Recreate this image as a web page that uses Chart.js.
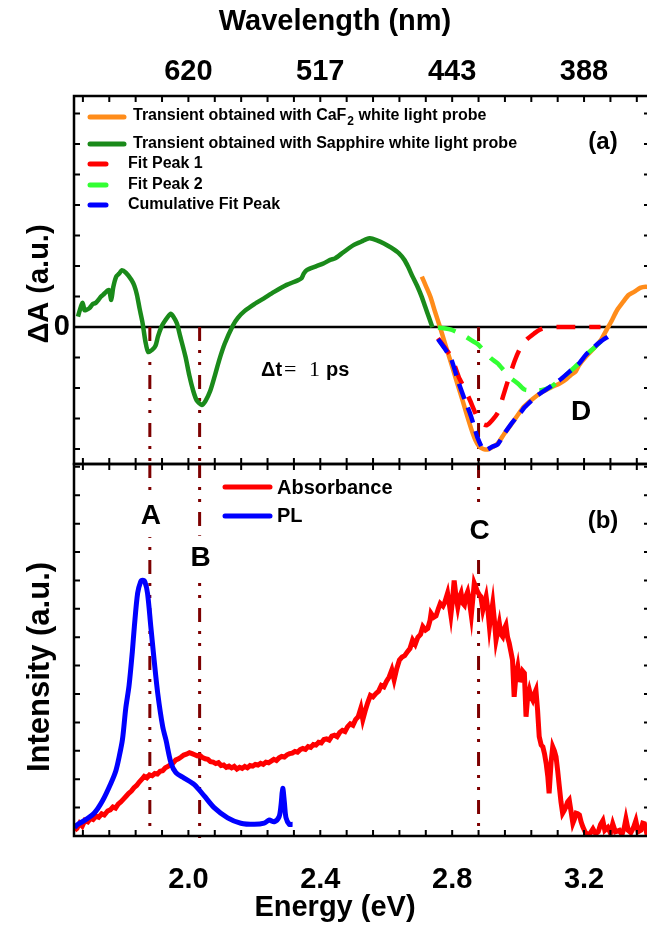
<!DOCTYPE html>
<html>
<head>
<meta charset="utf-8">
<script src="https://cdn.jsdelivr.net/npm/chart.js@4.4.1/dist/chart.umd.min.js"></script>
<style>
  html, body { margin: 0; padding: 0; background: #fff; overflow: hidden; width: 647px; height: 927px; }
  #wrap { position: relative; width: 660px; height: 927px; }
  #wrap canvas { position: absolute; left: 0; top: 0; }
</style>
</head>
<body>
<div id="wrap">
  <canvas id="panelA" width="660" height="927"></canvas>
  <canvas id="panelB" width="660" height="927"></canvas>
</div>
<script>
// ---- data (energy in eV) ----
const sapphireE = [1.665,1.672,1.679,1.685,1.690,1.700,1.710,1.719,1.728,1.735,1.741,1.750,1.759,1.766,1.772,1.781,1.790,1.798,1.810,1.827,1.836,1.844,1.852,1.861,1.870,1.878,1.890,1.900,1.908,1.918,1.930,1.946,1.955,1.965,1.975,1.991,2.003,2.014,2.025,2.041,2.052,2.066,2.080,2.093,2.110,2.135,2.150,2.170,2.200,2.229,2.260,2.298,2.330,2.343,2.350,2.360,2.385,2.411,2.430,2.445,2.470,2.502,2.525,2.540,2.550,2.570,2.593,2.615,2.638,2.655,2.666,2.680,2.695,2.708,2.718,2.730,2.740];
const sapphireDA = [0.34,0.60,0.79,0.55,0.56,0.62,0.75,0.79,0.90,1.00,1.05,1.15,1.21,0.89,1.30,1.65,1.75,1.86,1.78,1.55,1.35,1.05,0.60,0.13,-0.50,-0.82,-0.75,-0.62,-0.30,0.0,0.22,0.43,0.33,0.12,-0.30,-0.97,-1.60,-2.07,-2.40,-2.56,-2.42,-2.10,-1.60,-1.10,-0.55,0.05,0.30,0.52,0.75,0.94,1.15,1.38,1.52,1.60,1.75,1.87,1.98,2.09,2.20,2.25,2.45,2.69,2.80,2.88,2.91,2.85,2.74,2.60,2.42,2.20,1.98,1.65,1.32,0.98,0.67,0.30,-0.01];

const caf2E = [2.708,2.720,2.734,2.748,2.763,2.780,2.797,2.814,2.831,2.845,2.859,2.870,2.882,2.895,2.910,2.925,2.939,2.958,2.978,2.998,3.018,3.045,3.075,3.100,3.126,3.145,3.160,3.175,3.185,3.206,3.230,3.251,3.268,3.285,3.300,3.319,3.335,3.353,3.370,3.387,3.400];
const caf2DA = [1.65,1.35,0.99,0.50,0.0,-0.60,-1.19,-1.80,-2.39,-2.90,-3.38,-3.70,-3.92,-4.00,-4.01,-3.92,-3.81,-3.50,-3.21,-2.90,-2.61,-2.35,-2.12,-1.98,-1.85,-1.72,-1.57,-1.45,-1.25,-0.97,-0.70,-0.43,-0.10,0.23,0.55,0.83,1.05,1.16,1.28,1.32,1.30];

const peak1E = [2.757,2.777,2.797,2.820,2.837,2.854,2.876,2.893,2.905,2.922,2.939,2.955,2.973,2.990,3.004,3.025,3.049,3.067,3.087,3.120,3.160,3.200,3.250];
const peak1DA = [-0.37,-0.67,-0.96,-1.64,-2.00,-2.40,-2.95,-3.18,-3.22,-3.05,-2.80,-2.25,-1.63,-1.10,-0.75,-0.42,-0.21,-0.08,-0.01,0,0,0,0];

const peak2E = [2.757,2.780,2.797,2.820,2.842,2.860,2.877,2.900,2.918,2.938,2.955,2.973,3.000,3.019,3.045,3.070,3.090,3.105,3.126,3.155,3.183,3.205,3.231,3.250,3.274];
const peak2DA = [-0.02,-0.05,-0.09,-0.20,-0.32,-0.45,-0.56,-0.82,-1.03,-1.19,-1.40,-1.63,-1.86,-2.05,-2.08,-2.07,-2.01,-1.92,-1.74,-1.48,-1.20,-0.92,-0.68,-0.48,-0.30];

const cumulE = [2.757,2.777,2.797,2.820,2.837,2.854,2.865,2.876,2.893,2.905,2.922,2.938,2.958,2.978,2.992,3.008,3.019,3.040,3.060,3.090,3.126,3.155,3.183,3.205,3.231,3.250,3.272];
const cumulDA = [-0.40,-0.70,-1.05,-1.84,-2.35,-2.83,-3.20,-3.60,-4.00,-4.02,-3.92,-3.85,-3.50,-3.19,-3.00,-2.80,-2.64,-2.42,-2.23,-2.01,-1.74,-1.47,-1.22,-0.92,-0.65,-0.48,-0.32];

const absE = [1.655,1.662,1.670,1.678,1.686,1.695,1.703,1.711,1.720,1.728,1.737,1.745,1.755,1.763,1.771,1.779,1.787,1.795,1.803,1.811,1.819,1.827,1.835,1.843,1.851,1.859,1.866,1.874,1.882,1.890,1.898,1.906,1.914,1.922,1.930,1.938,1.946,1.954,1.962,1.970,1.978,1.986,1.994,2.003,2.011,2.019,2.027,2.035,2.043,2.051,2.059,2.067,2.075,2.083,2.091,2.099,2.107,2.115,2.123,2.131,2.139,2.147,2.155,2.163,2.171,2.179,2.187,2.195,2.203,2.211,2.219,2.227,2.235,2.243,2.251,2.259,2.267,2.275,2.283,2.291,2.299,2.307,2.315,2.323,2.331,2.339,2.347,2.355,2.363,2.371,2.379,2.387,2.395,2.403,2.411,2.419,2.427,2.435,2.443,2.451,2.459,2.467,2.475,2.483,2.491,2.499,2.507,2.515,2.523,2.529,2.536,2.544,2.552,2.560,2.569,2.577,2.585,2.593,2.601,2.609,2.617,2.624,2.632,2.640,2.648,2.656,2.665,2.672,2.680,2.688,2.696,2.704,2.711,2.719,2.726,2.733,2.736,2.744,2.751,2.758,2.764,2.772,2.778,2.786,2.792,2.796,2.801,2.806,2.811,2.817,2.822,2.827,2.832,2.837,2.842,2.847,2.852,2.858,2.863,2.867,2.872,2.877,2.882,2.887,2.893,2.898,2.903,2.908,2.913,2.918,2.923,2.928,2.933,2.938,2.943,2.948,2.953,2.958,2.963,2.968,2.973,2.978,2.983,2.988,2.993,2.999,3.004,3.009,3.014,3.019,3.024,3.029,3.034,3.039,3.044,3.049,3.054,3.059,3.064,3.070,3.075,3.080,3.085,3.090,3.094,3.100,3.105,3.110,3.115,3.120,3.125,3.130,3.135,3.140,3.145,3.150,3.155,3.160,3.166,3.171,3.176,3.181,3.186,3.191,3.196,3.203,3.211,3.219,3.227,3.235,3.243,3.250,3.257,3.263,3.272,3.280,3.287,3.295,3.307,3.315,3.322,3.327,3.334,3.342,3.350,3.357,3.364,3.372,3.378,3.383,3.390,3.400];
const absI = [0.20,0.27,0.45,0.35,0.55,0.50,0.62,0.58,0.70,0.66,0.78,0.74,0.88,0.92,1.02,0.98,1.12,1.20,1.30,1.40,1.50,1.58,1.70,1.78,1.90,2.00,2.10,2.05,2.15,2.12,2.20,2.18,2.28,2.30,2.40,2.45,2.52,2.58,2.68,2.72,2.78,2.85,2.88,2.93,2.90,2.86,2.82,2.84,2.76,2.72,2.70,2.62,2.60,2.55,2.58,2.48,2.50,2.42,2.46,2.40,2.45,2.36,2.42,2.38,2.45,2.40,2.48,2.46,2.52,2.50,2.56,2.52,2.60,2.58,2.64,2.70,2.66,2.75,2.80,2.78,2.86,2.90,2.92,2.98,2.95,3.04,3.08,3.05,3.15,3.12,3.22,3.20,3.30,3.28,3.40,3.42,3.38,3.52,3.55,3.50,3.65,3.72,3.68,3.85,3.95,3.90,4.10,4.20,4.50,4.10,4.40,4.70,4.95,4.90,5.02,5.10,5.30,5.25,5.45,5.60,5.85,5.50,5.90,6.20,6.30,6.35,6.50,6.60,6.90,6.75,7.00,7.10,7.37,7.25,7.31,7.60,7.84,7.70,7.75,8.00,8.19,8.10,8.25,8.55,8.10,7.78,8.30,9.00,8.50,8.07,8.40,8.55,8.20,8.13,8.45,8.60,8.30,7.78,8.40,8.90,8.75,8.60,8.50,8.43,7.96,8.20,8.43,8.00,7.37,7.80,8.19,7.60,6.90,7.20,7.49,7.10,7.02,7.30,7.43,7.00,6.79,6.50,6.20,4.90,5.60,5.96,5.50,5.49,5.80,5.73,4.20,4.90,5.14,4.90,4.79,5.00,5.14,4.44,3.50,3.20,3.14,2.90,2.56,2.10,1.50,2.60,3.14,3.00,2.79,2.30,1.74,1.20,0.80,0.90,1.03,1.20,1.27,0.90,0.45,0.60,0.80,0.78,0.74,0.50,0.33,0.15,0.04,0.10,0.25,0.08,0.15,0.40,0.54,0.20,0.30,0.10,0.43,0.15,0.20,0.05,0.30,0.60,0.20,0.12,0.30,0.54,0.15,0.20,0.45,0.43,0.10,0.30];

const plE = [1.655,1.662,1.685,1.714,1.740,1.765,1.780,1.790,1.800,1.810,1.820,1.830,1.836,1.846,1.855,1.861,1.868,1.876,1.886,1.896,1.907,1.922,1.932,1.947,1.962,1.987,2.018,2.048,2.078,2.119,2.159,2.200,2.230,2.245,2.260,2.275,2.281,2.286,2.291,2.296,2.306,2.316];
const plI = [0.30,0.39,0.55,0.80,1.25,1.86,2.30,2.79,3.40,4.50,5.30,6.50,7.37,8.55,8.95,9.01,8.95,8.55,7.37,6.20,5.02,3.85,3.38,2.58,2.23,2.04,1.81,1.41,1.00,0.64,0.45,0.41,0.45,0.56,0.50,0.68,1.10,1.68,1.20,0.64,0.41,0.41];

// marker lines A, B, C and tick labels
const markerE = [1.883, 2.034, 2.88];
const markerNames = ['A', 'B', 'C'];
const energyTicks = [2.0, 2.4, 2.8, 3.2];
const energyLabels = ['2.0', '2.4', '2.8', '3.2'];
const wavelengthLabels = ['620', '517', '443', '388'];
const minorStep = 0.08;

const X_MIN = 1.653, X_MAX = 3.4;
const DA_MIN = -4.49, DA_MAX = 7.57;
const INT_MIN = 0, INT_MAX = 13.1;

const BOLD = '"Liberation Sans", Arial, sans-serif';
const markerColor = '#7d0000';
const markerDash = [14, 9, 3, 9, 3, 10];

const pairs = (xs, ys) => xs.map((x, i) => ({ x: x, y: ys[i] }));

function drawFrame(chart, yTicks) {
  const { ctx, chartArea: a, scales: { x, y } } = chart;
  ctx.save();
  ctx.strokeStyle = '#000';
  ctx.lineWidth = 2.5;
  ctx.strokeRect(a.left, a.top, a.right - a.left, a.bottom - a.top);
  ctx.lineWidth = 2;
  ctx.beginPath();
  for (let v = 1.68; v < X_MAX; v += minorStep) {
    const px = x.getPixelForValue(v);
    ctx.moveTo(px, a.top); ctx.lineTo(px, a.top + 6);
    ctx.moveTo(px, a.bottom); ctx.lineTo(px, a.bottom - 6);
  }
  yTicks.forEach(v => {
    const py = y.getPixelForValue(v);
    ctx.moveTo(a.left, py); ctx.lineTo(a.left + 6, py);
    ctx.moveTo(a.right, py); ctx.lineTo(a.right - 6, py);
  });
  ctx.stroke();
  ctx.restore();
}

function drawMarkers(chart, fromValue, extra) {
  const { ctx, chartArea: a, scales: { x, y } } = chart;
  ctx.save();
  ctx.strokeStyle = markerColor;
  ctx.lineWidth = 3;
  ctx.setLineDash(markerDash);
  markerE.forEach((e, i) => {
    const px = x.getPixelForValue(e);
    ctx.beginPath();
    ctx.moveTo(px, fromValue === null ? a.top : y.getPixelForValue(fromValue));
    ctx.lineTo(px, a.bottom + (extra ? extra[i] : 0));
    ctx.stroke();
  });
  ctx.restore();
}

function legendLine(ctx, x1, x2, yy, color) {
  ctx.save();
  ctx.strokeStyle = color;
  ctx.lineWidth = 5;
  ctx.lineCap = 'round';
  ctx.beginPath(); ctx.moveTo(x1, yy); ctx.lineTo(x2, yy); ctx.stroke();
  ctx.restore();
}

const panelAPlugin = {
  id: 'panelA',
  beforeDatasetsDraw(chart) {
    const { ctx, chartArea: a, scales: { y } } = chart;
    ctx.save();
    ctx.strokeStyle = '#000';
    ctx.lineWidth = 2.5;
    ctx.beginPath();
    ctx.moveTo(a.left, y.getPixelForValue(0));
    ctx.lineTo(a.right, y.getPixelForValue(0));
    ctx.stroke();
    ctx.restore();
    drawMarkers(chart, 0);
  },
  afterDraw(chart) {
    const { ctx, chartArea: a, scales: { x, y } } = chart;
    drawFrame(chart, [-4, -3, -2, -1, 0, 1, 2, 3, 4, 5, 6, 7]);
    ctx.save();
    ctx.fillStyle = '#000';
    // top axis: wavelength
    ctx.font = 'bold 29px ' + BOLD;
    ctx.textAlign = 'center';
    ctx.textBaseline = 'alphabetic';
    energyTicks.forEach((e, i) => ctx.fillText(wavelengthLabels[i], x.getPixelForValue(e), 80));
    ctx.fillText('Wavelength (nm)', 335, 30);
    // y axis
    ctx.textAlign = 'right';
    ctx.textBaseline = 'middle';
    ctx.fillText('0', a.left - 4, y.getPixelForValue(0));
    ctx.save();
    ctx.translate(40, 284);
    ctx.rotate(-Math.PI / 2);
    ctx.textAlign = 'center';
    ctx.fillText('\u0394A (a.u.)', 0, 0);
    ctx.restore();
    // legend
    legendLine(ctx, 90, 124, 117, '#ff8c1a');
    legendLine(ctx, 90, 124, 144, '#1a8a1a');
    legendLine(ctx, 90, 106, 164, '#ff0000');
    legendLine(ctx, 90, 106, 185, '#33ff33');
    legendLine(ctx, 90, 106, 205, '#0000ff');
    ctx.textAlign = 'left';
    ctx.textBaseline = 'middle';
    ctx.font = 'bold 16px ' + BOLD;
    const s = 'Transient obtained with CaF';
    ctx.fillText(s, 133, 116);
    const w = ctx.measureText(s).width;
    ctx.font = 'bold 12px ' + BOLD;
    ctx.fillText('2', 134 + w, 122);
    const w2 = ctx.measureText('2').width;
    ctx.font = 'bold 16px ' + BOLD;
    ctx.fillText(' white light probe', 134 + w + w2, 116);
    ctx.fillText('Transient obtained with Sapphire white light probe', 133, 144);
    ctx.fillText('Fit Peak 1', 128, 164);
    ctx.fillText('Fit Peak 2', 128, 185);
    ctx.fillText('Cumulative Fit Peak', 128, 205);
    // annotations
    ctx.font = 'bold 24px ' + BOLD;
    ctx.textAlign = 'center';
    ctx.fillText('(a)', 603, 142);
    ctx.font = 'bold 28px ' + BOLD;
    ctx.fillText('D', 581, 412);
    // delta t
    ctx.textAlign = 'left';
    ctx.textBaseline = 'alphabetic';
    ctx.font = 'bold 20px ' + BOLD;
    ctx.fillText('\u0394t', 261, 376);
    ctx.font = '22px "Liberation Serif", "Times New Roman", serif';
    ctx.fillText('=', 284, 376);
    ctx.fillText('1', 309, 376);
    ctx.font = 'bold 20px ' + BOLD;
    ctx.fillText('ps', 326, 376);
    ctx.restore();
  }
};

const panelBPlugin = {
  id: 'panelB',
  beforeDatasetsDraw(chart) {
    drawMarkers(chart, null, [0, 6, 0]);
    const { ctx, scales: { x, y } } = chart;
    // labels A, B, C break the marker lines
    const labelLevels = [11.3, 9.8, 10.75];
    ctx.save();
    ctx.font = 'bold 28px ' + BOLD;
    ctx.textAlign = 'center';
    ctx.textBaseline = 'middle';
    markerE.forEach((e, i) => {
      const px = x.getPixelForValue(e), py = y.getPixelForValue(labelLevels[i]);
      ctx.fillStyle = '#fff';
      ctx.fillRect(px - 13, py - 22, 26, 44);
      ctx.fillStyle = '#000';
      ctx.fillText(markerNames[i], px + 1, py + 1);
    });
    ctx.restore();
  },
  afterDraw(chart) {
    const { ctx, scales: { x } } = chart;
    drawFrame(chart, [1, 2, 3, 4, 5, 6, 7, 8, 9, 10, 11, 12, 13]);
    ctx.save();
    ctx.fillStyle = '#000';
    ctx.font = 'bold 29px ' + BOLD;
    ctx.textAlign = 'center';
    ctx.textBaseline = 'alphabetic';
    energyTicks.forEach((e, i) => ctx.fillText(energyLabels[i], x.getPixelForValue(e), 888));
    ctx.fillText('Energy (eV)', 335, 916);
    ctx.save();
    ctx.translate(40, 667);
    ctx.rotate(-Math.PI / 2);
    ctx.textBaseline = 'middle';
    ctx.font = 'bold 31px ' + BOLD;
    ctx.fillText('Intensity (a.u.)', 0, 0);
    ctx.restore();
    // legend
    legendLine(ctx, 225, 270, 487, '#ff0000');
    legendLine(ctx, 225, 270, 516, '#0000ff');
    ctx.textAlign = 'left';
    ctx.textBaseline = 'middle';
    ctx.font = 'bold 20px ' + BOLD;
    ctx.fillText('Absorbance', 277, 488);
    ctx.fillText('PL', 277, 516);
    ctx.font = 'bold 24px ' + BOLD;
    ctx.textAlign = 'center';
    ctx.fillText('(b)', 603, 521);
    ctx.restore();
  }
};

function options(padTop, padBottom, yMin, yMax) {
  return {
    responsive: false,
    animation: false,
    events: [],
    layout: { padding: { left: 74, right: 10, top: padTop, bottom: padBottom } },
    plugins: { legend: { display: false }, tooltip: { enabled: false } },
    elements: { point: { radius: 0 } },
    scales: {
      x: { type: 'linear', min: X_MIN, max: X_MAX, display: false },
      y: { type: 'linear', min: yMin, max: yMax, display: false }
    }
  };
}

new Chart(document.getElementById('panelA'), {
  type: 'line',
  data: {
    datasets: [
      { label: 'Cumulative Fit Peak', data: pairs(cumulE, cumulDA), borderColor: '#0000ff', borderWidth: 4.5, borderDash: [16, 9], tension: 0.2, order: 1 },
      { label: 'Fit Peak 2', data: pairs(peak2E, peak2DA), borderColor: '#33ff33', borderWidth: 4.5, borderDash: [18, 13], tension: 0.2, order: 2 },
      { label: 'Fit Peak 1', data: pairs(peak1E, peak1DA), borderColor: '#ff0000', borderWidth: 4.5, borderDash: [19, 14], tension: 0.2, order: 3 },
      { label: 'Transient obtained with CaF2 white light probe', data: pairs(caf2E, caf2DA), borderColor: '#ff8c1a', borderWidth: 4.5, tension: 0.25, order: 4 },
      { label: 'Transient obtained with Sapphire white light probe', data: pairs(sapphireE, sapphireDA), borderColor: '#1a8a1a', borderWidth: 4.5, tension: 0.25, order: 5 }
    ]
  },
  options: options(96, 463, DA_MIN, DA_MAX),
  plugins: [panelAPlugin]
});

new Chart(document.getElementById('panelB'), {
  type: 'line',
  data: {
    datasets: [
      { label: 'PL', data: pairs(plE, plI), borderColor: '#0000ff', borderWidth: 5, tension: 0.3, order: 1 },
      { label: 'Absorbance', data: pairs(absE, absI), borderColor: '#ff0000', borderWidth: 5, tension: 0, order: 2 }
    ]
  },
  options: options(464, 91, INT_MIN, INT_MAX),
  plugins: [panelBPlugin]
});
</script>
</body>
</html>
